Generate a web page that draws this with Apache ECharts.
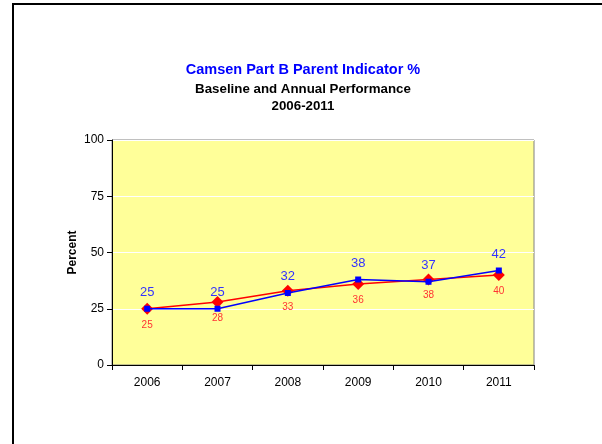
<!DOCTYPE html>
<html><head><meta charset="utf-8">
<script src="https://cdn.jsdelivr.net/npm/echarts@6/dist/echarts.min.js"></script>
<style>html,body{margin:0;padding:0;background:#fff}#c{width:602px;height:444px}</style>
</head><body><div id="c"></div>
<script>
const categories = ['2006','2007','2008','2009','2010','2011'];
const actualValues = [25, 25, 32, 38, 37, 42];
const targetValues = [25, 28, 33, 36, 38, 40];
const yTicks = [0, 25, 50, 75, 100];

const chart = echarts.init(document.getElementById('c'), null, {renderer:'canvas'});
const F = 'Liberation Sans, Arial, sans-serif';
chart.setOption({
  animation: false,
  backgroundColor: '#fff',
  graphic: [{
    type: 'rect', shape: {x: 13, y: 4, width: 600, height: 460},
    style: {fill: 'none', stroke: '#000', lineWidth: 2}, z: 100
  }],
  title: [
    {text: 'Camsen Part B Parent Indicator %', left: 298, top: 57, textAlign: 'center',
     textStyle: {color: '#0000FF', fontSize: 14.5, fontWeight: 'bold', fontFamily: F}},
    {text: 'Baseline and Annual Performance', left: 298, top: 78, textAlign: 'center',
     textStyle: {color: '#000', fontSize: 13.3, fontWeight: 'bold', fontFamily: F}},
    {text: '2006-2011', left: 298, top: 95, textAlign: 'center',
     textStyle: {color: '#000', fontSize: 13.3, fontWeight: 'bold', fontFamily: F}}
  ],
  grid: {left: 112, right: 68, top: 140, bottom: 79, show: true,
         backgroundColor: '#FFFF99', borderColor: '#808080', borderWidth: 1},
  xAxis: {type: 'category', data: categories, boundaryGap: true,
    axisLine: {lineStyle: {color: '#000', width: 1}},
    axisTick: {show: true, inside: false, length: 5, lineStyle: {color: '#000'}},
    axisLabel: {color: '#000', fontSize: 12, fontFamily: F, margin: 12}},
  yAxis: {type: 'value', min: yTicks[0], max: yTicks[yTicks.length-1], interval: 25,
    name: 'Percent', nameLocation: 'middle', nameGap: 33, nameRotate: 90, nameMoveOverlap: false,
    nameTextStyle: {color: '#000', fontSize: 12, fontWeight: 'bold', fontFamily: F},
    axisLine: {show: true, lineStyle: {color: '#000', width: 1}},
    axisTick: {show: true, inside: false, length: 5, lineStyle: {color: '#000'}},
    splitLine: {show: true, lineStyle: {color: '#fff', width: 1}},
    axisLabel: {color: '#000', fontSize: 12, fontFamily: F, margin: 8}},
  series: [
    {name: 'Target', type: 'line', data: targetValues, symbol: 'diamond', symbolSize: 12,
     lineStyle: {color: '#FF0000', width: 1.5}, itemStyle: {color: '#FF0000'},
     label: {show: true, position: 'bottom', distance: 5, color: '#FF3333', fontSize: 10, fontFamily: F}, z: 2},
    {name: 'Actual', type: 'line', data: actualValues, symbol: 'rect', symbolSize: 6,
     lineStyle: {color: '#0000FF', width: 1.5}, itemStyle: {color: '#0000FF'},
     label: {show: true, position: 'top', distance: 7, color: '#3333FF', fontSize: 13, fontFamily: F}, z: 3}
  ]
});
</script></body></html>
